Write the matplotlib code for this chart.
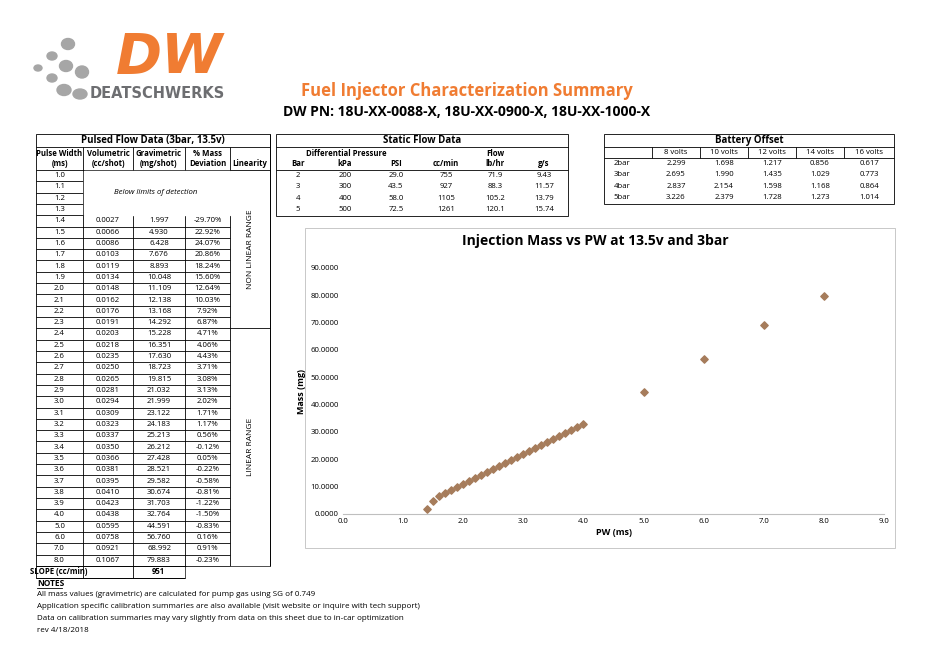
import matplotlib
matplotlib.use("Agg")
import matplotlib.pyplot as plt
from matplotlib.patches import Ellipse, Rectangle

plt.rcParams['font.family'] = ['Open Sans', 'DejaVu Sans']

pw = [1.0,1.1,1.2,1.3,1.4,1.5,1.6,1.7,1.8,1.9,2.0,2.1,2.2,2.3,2.4,2.5,2.6,2.7,2.8,2.9,3.0,3.1,3.2,3.3,3.4,3.5,3.6,3.7,3.8,3.9,4.0,5.0,6.0,7.0,8.0]
vol = [None]*4 + ["0.0027","0.0066","0.0086","0.0103","0.0119","0.0134","0.0148","0.0162","0.0176","0.0191","0.0203","0.0218","0.0235","0.0250","0.0265","0.0281","0.0294","0.0309","0.0323","0.0337","0.0350","0.0366","0.0381","0.0395","0.0410","0.0423","0.0438","0.0595","0.0758","0.0921","0.1067"]
grav = [None]*4 + [1.997,4.930,6.428,7.676,8.893,10.048,11.109,12.138,13.168,14.292,15.228,16.351,17.630,18.723,19.815,21.032,21.999,23.122,24.183,25.213,26.212,27.428,28.521,29.582,30.674,31.703,32.764,44.591,56.760,68.992,79.883]
dev = [None]*4 + ["-29.70%","22.92%","24.07%","20.86%","18.24%","15.60%","12.64%","10.03%","7.92%","6.87%","4.71%","4.06%","4.43%","3.71%","3.08%","3.13%","2.02%","1.71%","1.17%","0.56%","-0.12%","0.05%","-0.22%","-0.58%","-0.81%","-1.22%","-1.50%","-0.83%","0.16%","0.91%","-0.23%"]
slope = "951"

static_bar = ["2","3","4","5"]
static_kpa = ["200","300","400","500"]
static_psi = ["29.0","43.5","58.0","72.5"]
static_cc = ["755","927","1105","1261"]
static_lb = ["71.9","88.3","105.2","120.1"]
static_gs = ["9.43","11.57","13.79","15.74"]

batt_volts = ["8 volts","10 volts","12 volts","14 volts","16 volts"]
batt_rows = ["2bar","3bar","4bar","5bar"]
batt_vals = [["2.299","1.698","1.217","0.856","0.617"],
             ["2.695","1.990","1.435","1.029","0.773"],
             ["2.837","2.154","1.598","1.168","0.864"],
             ["3.226","2.379","1.728","1.273","1.014"]]

fig = plt.figure(figsize=(9.34, 6.7), dpi=100)
ax = fig.add_axes([0, 0, 1, 1])
ax.set_xlim(0, 934); ax.set_ylim(670, 0); ax.axis('off')

FS = 5.6
def line(x0, y0, x1, y1, lw=0.6):
    ax.plot([x0, x1], [y0, y1], color='black', lw=lw, solid_capstyle='butt')
def txt(x, y, s, **kw):
    kw.setdefault('fontsize', FS)
    ax.text(x, y, s, ha=kw.pop('ha', 'center'), va=kw.pop('va', 'center'), **kw)

# Logo
for (cx, cy, w, h) in [(38, 68, 8, 6), (52, 56, 10, 8), (52, 78, 10, 8), (68, 44, 13, 11), (66, 66, 13, 11), (64, 90, 14, 11), (82, 72, 13, 12), (80, 94, 14, 10)]:
    ax.add_patch(Ellipse((cx, cy), w, h, color='#a6a6a6'))
txt(170, 58, "DW", fontsize=40, fontweight='bold', style='italic', color='#f07c32', family='DejaVu Sans')
txt(90, 94, "DEATSCHWERKS", fontsize=10.5, fontweight='bold', color='#6d6e71', family='DejaVu Sans', ha='left')

txt(467, 91, "Fuel Injector Characterization Summary", fontsize=12, fontweight='bold', color='#f07c32')
txt(467, 112, "DW PN: 18U-XX-0088-X, 18U-XX-0900-X, 18U-XX-1000-X", fontsize=10, fontweight='bold')

# Left table
cx = [36, 83, 133, 185, 230, 270]
rh = 11.31
y0 = 170
ax.add_patch(Rectangle((36, 134), 234, 444, fill=False, lw=0.6))
line(36, 147, 270, 147)
txt(153, 140.5, "Pulsed Flow Data (3bar, 13.5v)", fontsize=7, fontweight='bold')
heads = [("Pulse Width", "(ms)"), ("Volumetric", "(cc/shot)"), ("Gravimetric", "(mg/shot)"), ("% Mass", "Deviation")]
for i, (a, b) in enumerate(heads):
    txt((cx[i]+cx[i+1])/2, 153, a, fontweight='bold')
    txt((cx[i]+cx[i+1])/2, 164, b, fontweight='bold')
txt(250, 164, "Linearity", fontweight='bold')
for x in cx[1:5]:
    line(x, 147, x, 566)
line(36, 170, 270, 170)
n = len(pw)
for i in range(n):
    yt = y0 + i*rh
    yc = yt + rh/2
    txt((cx[0]+cx[1])/2, yc, f"{pw[i]:.1f}")
    if grav[i] is not None:
        txt((cx[1]+cx[2])/2, yc, vol[i])
        txt((cx[2]+cx[3])/2, yc, f"{grav[i]:.3f}")
        txt((cx[3]+cx[4])/2, yc, dev[i])
        line(36, yt+rh, 230, yt+rh)
    else:
        line(36, yt+rh, 83, yt+rh)
ax.add_patch(Rectangle((83.5, 170.5), 146, 4*rh-1, color='white', zorder=3))
txt(156, 170+2*rh, "Below limits of detection", style='italic', zorder=4)
line(83, 170+4*rh, 230, 170+4*rh)
ysplit = 170 + 14*rh
line(230, ysplit, 270, ysplit)
txt(250, (170+ysplit)/2, "NON LINEAR RANGE", rotation=90, fontsize=6)
txt(250, (ysplit+566)/2, "LINEAR RANGE", rotation=90, fontsize=6)
line(36, 566, 270, 566)
ax.add_patch(Rectangle((186, 566.5), 90, 13, color='white', zorder=3))
line(83, 566, 83, 578); line(133, 566, 133, 578); line(185, 566, 185, 578)
txt(59, 572, "SLOPE (cc/min)", fontweight='bold')
txt(158, 572, slope, fontweight='bold')
line(36, 578, 185, 578)
line(270, 134, 270, 566)

# Notes
txt(37, 583, "NOTES", ha='left', fontweight='bold', fontsize=6)
ax.plot([37, 62], [588, 588], color='black', lw=0.6)
notes = ["All mass values (gravimetric) are calculated for pump gas using SG of 0.749",
         "Application specific calibration summaries are also available (visit website or inquire with tech support)",
         "Data on calibration summaries may vary slightly from data on this sheet due to in-car optimization",
         "rev 4/18/2018"]
for i, s in enumerate(notes):
    txt(37, 595+i*11.7, s, ha='left', fontsize=5.8)

# Static flow table
sx = [276, 320, 370, 422, 470, 520, 568]
ax.add_patch(Rectangle((276, 134), 292, 81.5, fill=False, lw=0.6))
line(276, 147, 568, 147)
txt(422, 140.5, "Static Flow Data", fontsize=7, fontweight='bold')
txt(346, 153, "Differential Pressure", fontweight='bold')
txt(495, 153, "Flow", fontweight='bold')
for i, h in enumerate(["Bar", "kPa", "PSI", "cc/min", "lb/hr", "g/s"]):
    txt((sx[i]+sx[i+1])/2, 164, h, fontweight='bold')
line(276, 170, 568, 170)
cols = [static_bar, static_kpa, static_psi, static_cc, static_lb, static_gs]
for r in range(4):
    yc = 170 + r*rh + rh/2
    for c in range(6):
        txt((sx[c]+sx[c+1])/2, yc, cols[c][r])

# Battery offset
bx = [604, 652, 700, 748, 796, 844, 894]
ax.add_patch(Rectangle((604, 134), 290, 70, fill=False, lw=0.6))
line(604, 147, 894, 147)
txt(749, 140.5, "Battery Offset", fontsize=7, fontweight='bold')
for i in range(1, 6):
    line(bx[i], 147, bx[i], 158)
    txt((bx[i]+bx[i+1])/2, 152.5, batt_volts[i-1])
line(604, 158, 894, 158)
for r in range(4):
    yc = 158 + r*rh + rh/2
    txt(bx[0]+18, yc, batt_rows[r])
    for c in range(5):
        txt((bx[c+1]+bx[c+2])/2, yc, batt_vals[r][c])

# Chart box
ax.add_patch(Rectangle((305, 228), 590, 320, fill=False, lw=0.6, edgecolor='#bfbfbf'))
txt(595, 241, "Injection Mass vs PW at 13.5v and 3bar", fontsize=10, fontweight='bold')
cax = fig.add_axes([343/934, 1-514/670, (884-343)/934, (514-268)/670])
xs = [p for p, g in zip(pw, grav) if g is not None]
ys = [g for g in grav if g is not None]
cax.scatter(xs, ys, marker='D', s=14, color='#a67c5b', zorder=3)
cax.set_xlim(0, 9); cax.set_ylim(0, 90)
cax.set_xticks(range(10)); cax.set_yticks(range(0, 91, 10))
cax.set_xticklabels([f"{v:.1f}" for v in range(10)], fontsize=5.6)
cax.set_yticklabels([f"{v:.4f}" for v in range(0, 91, 10)], fontsize=5.6)
for s in ['top', 'right', 'left']:
    cax.spines[s].set_visible(False)
cax.spines['bottom'].set_color('#bfbfbf')
cax.tick_params(length=0, pad=3)
cax.set_xlabel("PW (ms)", fontsize=6.5, fontweight='bold', labelpad=2)
cax.set_ylabel("Mass (mg)", fontsize=6.5, fontweight='bold', labelpad=3)

fig.savefig("out.png", dpi=100)
